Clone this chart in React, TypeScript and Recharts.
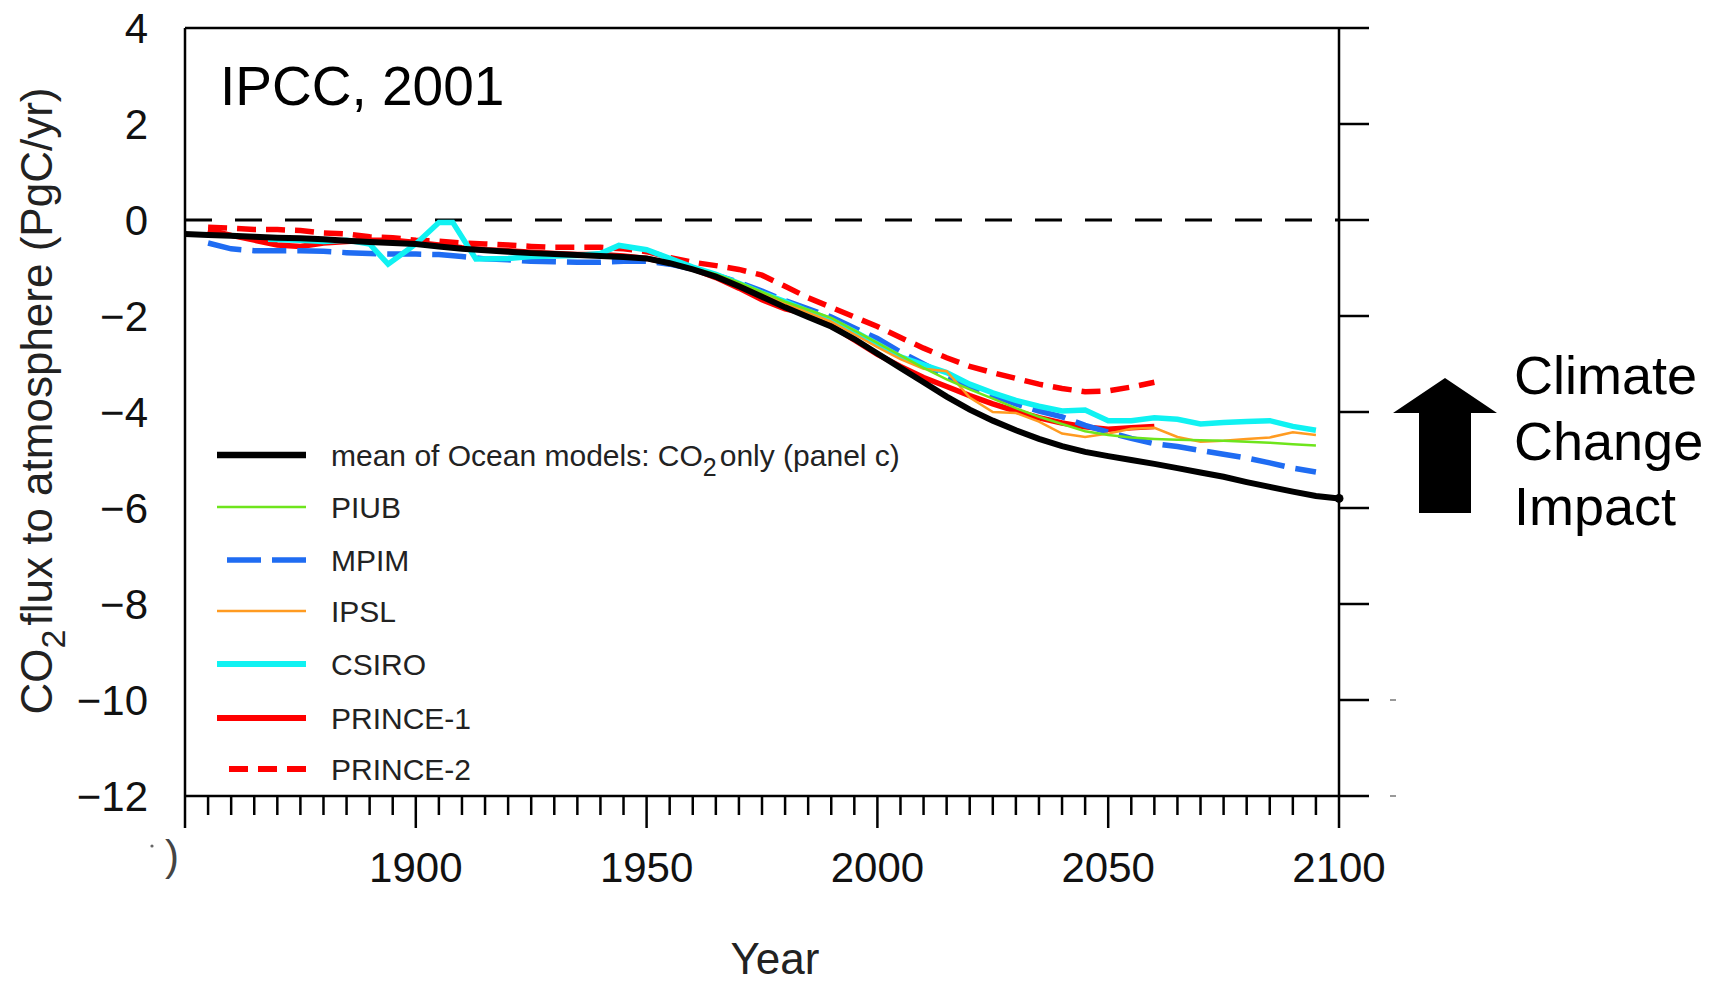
import React from 'react';
import { LineChart, Line, XAxis, YAxis, ReferenceLine } from 'recharts';

// years shared by most model runs (5-year steps)
const YEARS = [
  1850, 1855, 1860, 1865, 1870, 1875, 1880, 1885, 1890, 1895,
  1900, 1905, 1910, 1915, 1920, 1925, 1930, 1935, 1940, 1945,
  1950, 1955, 1960, 1965, 1970, 1975, 1980, 1985, 1990, 1995,
  2000, 2005, 2010, 2015, 2020, 2025, 2030, 2035, 2040, 2045,
  2050, 2055, 2060, 2065, 2070, 2075, 2080, 2085, 2090, 2095, 2100,
];

// PgC/yr
const MEAN = [
  -0.29, -0.31, -0.33, -0.35, -0.37, -0.38, -0.40, -0.43, -0.46, -0.48,
  -0.50, -0.55, -0.60, -0.63, -0.66, -0.69, -0.71, -0.73, -0.75, -0.77,
  -0.80, -0.90, -1.03, -1.18, -1.38, -1.60, -1.82, -2.02, -2.22, -2.48,
  -2.78, -3.08, -3.38, -3.68, -3.95, -4.18, -4.38, -4.56, -4.71, -4.83,
  -4.92, -5.00, -5.08, -5.17, -5.26, -5.35, -5.46, -5.56, -5.66, -5.75, -5.80,
];
const PIUB = [
  null, -0.31, -0.33, -0.35, -0.37, -0.38, -0.40, -0.43, -0.46, -0.48,
  -0.50, -0.55, -0.60, -0.63, -0.66, -0.69, -0.71, -0.73, -0.74, -0.76,
  -0.79, -0.88, -1.00, -1.13, -1.30, -1.50, -1.70, -1.87, -2.04, -2.30,
  -2.56, -2.82, -3.08, -3.32, -3.53, -3.72, -3.92, -4.10, -4.25, -4.40,
  -4.48, -4.53, -4.56, -4.58, -4.59, -4.60, -4.62, -4.64, -4.67, -4.70, null,
];
const MPIM = [
  null, -0.48, -0.60, -0.64, -0.64, -0.64, -0.65, -0.68, -0.70, -0.71,
  -0.71, -0.72, -0.76, -0.81, -0.83, -0.86, -0.87, -0.88, -0.88, -0.86,
  -0.86, -0.92, -1.02, -1.15, -1.30, -1.48, -1.68, -1.85, -2.02, -2.25,
  -2.47, -2.75, -3.00, -3.25, -3.45, -3.65, -3.83, -3.98, -4.10, -4.28,
  -4.42, -4.55, -4.66, -4.72, -4.80, -4.88, -4.96, -5.06, -5.17, -5.25, null,
];
const IPSL = [
  null, -0.31, -0.33, -0.35, -0.37, -0.38, -0.40, -0.43, -0.46, -0.48,
  -0.50, -0.55, -0.60, -0.63, -0.66, -0.69, -0.71, -0.73, -0.74, -0.76,
  -0.79, -0.90, -1.02, -1.16, -1.33, -1.53, -1.74, -1.93, -2.12, -2.38,
  -2.65, -2.90, -3.10, -3.15, -3.70, -4.00, -4.02, -4.20, -4.45, -4.52,
  -4.45, -4.35, -4.33, -4.52, -4.62, -4.60, -4.56, -4.53, -4.42, -4.48, null,
];
const PRINCE1 = [
  null, -0.20, -0.32, -0.42, -0.52, -0.55, -0.48, -0.45, -0.42, -0.42,
  -0.47, -0.52, -0.58, -0.62, -0.64, -0.67, -0.70, -0.72, -0.72, -0.75,
  -0.80, -0.90, -1.02, -1.20, -1.42, -1.66, -1.85, -1.96, -2.20, -2.50,
  -2.80, -3.05, -3.28, -3.47, -3.66, -3.83, -3.98, -4.12, -4.23, -4.31,
  -4.36, -4.33, -4.30, null, null, null, null, null, null, null, null,
];
const PRINCE2 = [
  null, -0.15, -0.17, -0.20, -0.20, -0.22, -0.27, -0.29, -0.35, -0.37,
  -0.42, -0.44, -0.48, -0.50, -0.52, -0.55, -0.57, -0.57, -0.57, -0.60,
  -0.66, -0.78, -0.88, -0.95, -1.03, -1.15, -1.38, -1.62, -1.82, -2.02,
  -2.22, -2.45, -2.67, -2.87, -3.05, -3.18, -3.30, -3.42, -3.51, -3.58,
  -3.56, -3.48, -3.38, null, null, null, null, null, null, null, null,
];

// CSIRO has its own years (the wiggle around 1895-1913)
const CSIRO_YEARS = [
  1868, 1875, 1880, 1885, 1890, 1894, 1900, 1905, 1908, 1913,
  1920, 1925, 1930, 1935, 1940, 1944, 1950, 1955, 1960, 1965,
  1970, 1975, 1980, 1985, 1990, 1995, 2000, 2005, 2010, 2015,
  2020, 2025, 2030, 2035, 2040, 2045, 2050, 2055, 2060, 2065,
  2070, 2075, 2080, 2085, 2090, 2095,
];
const CSIRO = [
  -0.40, -0.42, -0.45, -0.42, -0.50, -0.92, -0.50, -0.05, -0.05, -0.81,
  -0.80, -0.76, -0.75, -0.74, -0.70, -0.53, -0.62, -0.80, -0.98, -1.13,
  -1.32, -1.52, -1.70, -1.90, -2.08, -2.32, -2.58, -2.85, -3.02, -3.18,
  -3.42, -3.60, -3.76, -3.88, -3.98, -3.96, -4.18, -4.18, -4.12, -4.15,
  -4.25, -4.22, -4.20, -4.18, -4.30, -4.38,
];

const Y_TICKS = [-12, -10, -8, -6, -4, -2, 0, 2, 4];
const X_TICKS = YEARS;
const X_LABELS = [1900, 1950, 2000, 2050, 2100];

// legend order; drawing order is below
const SERIES = [
  { key: 'mean', name: 'mean', color: '#000000', width: 6, lw: 6.5, dash: undefined, lx: 217 },
  { key: 'piub', name: 'PIUB', color: '#6ee51c', width: 2.5, lw: 2.5, dash: undefined, lx: 217 },
  { key: 'mpim', name: 'MPIM', color: '#1f6cf2', width: 5.5, lw: 5.5, dash: '34 11', lx: 224 },
  { key: 'ipsl', name: 'IPSL', color: '#ff9b21', width: 2.5, lw: 2.5, dash: undefined, lx: 217 },
  { key: 'csiro', name: 'CSIRO', color: '#10f2f2', width: 5.5, lw: 6, dash: undefined, lx: 217 },
  { key: 'prince1', name: 'PRINCE-1', color: '#ff0000', width: 5.5, lw: 6, dash: undefined, lx: 217 },
  { key: 'prince2', name: 'PRINCE-2', color: '#ff0000', width: 5.5, lw: 6, dash: '19 10', lx: 227 },
];
const DRAW_ORDER = ['prince2', 'prince1', 'mpim', 'csiro', 'ipsl', 'piub', 'mean'];

const FONT = '"Liberation Sans", Arial, Helvetica, sans-serif';

function buildRows() {
  const byYear = new Map<number, Record<string, number | null>>();
  const put = (years: number[], values: (number | null)[], key: string) => {
    years.forEach((yr, i) => {
      if (values[i] === null || values[i] === undefined) return;
      const row = byYear.get(yr) || { year: yr };
      row[key] = values[i];
      byYear.set(yr, row);
    });
  };
  put(YEARS, MEAN, 'mean');
  put(YEARS, PIUB, 'piub');
  put(YEARS, MPIM, 'mpim');
  put(YEARS, IPSL, 'ipsl');
  put(YEARS, PRINCE1, 'prince1');
  put(YEARS, PRINCE2, 'prince2');
  put(CSIRO_YEARS, CSIRO, 'csiro');
  return Array.from(byYear.values()).sort((a, b) => (a.year as number) - (b.year as number));
}

const rows = buildRows();

// eslint-disable-next-line @typescript-eslint/no-explicit-any
const XTick = (props: any) => {
  const { x, y, payload } = props;
  const v = payload.value;
  const major = v % 50 === 0;
  return (
    <g>
      <line x1={x} x2={x} y1={y} y2={y + (major ? 32 : 19)} stroke="#000" strokeWidth={2.5} />
      {X_LABELS.includes(v) && (
        <text x={x} y={y + 86} textAnchor="middle" fontSize={42} fontFamily={FONT} fill="#111">
          {v}
        </text>
      )}
    </g>
  );
};

// eslint-disable-next-line @typescript-eslint/no-explicit-any
const YTick = (props: any) => {
  const { x, y, payload } = props;
  const v = payload.value;
  const label = v < 0 ? '\u2212' + Math.abs(v) : String(v);
  return (
    <text x={x - 37} y={y + 15} textAnchor="end" fontSize={42} fontFamily={FONT} fill="#111">
      {label}
    </text>
  );
};

// right axis: bare outward tick marks
// eslint-disable-next-line @typescript-eslint/no-explicit-any
const RightTick = (props: any) => {
  const { x, y } = props;
  return <line x1={x} x2={x + 30} y1={y} y2={y} stroke="#000" strokeWidth={2.5} />;
};

const lastIdx = rows.length - 1;
// eslint-disable-next-line @typescript-eslint/no-explicit-any
const endBlob = (p: any) =>
  p.index === lastIdx ? <circle key="blob" cx={p.cx} cy={p.cy} r={4.5} fill="#000" /> : <g key={`d-${p.index}`} />;

function Legend() {
  const rowY = [455, 507, 560, 611, 664, 718, 769];
  return (
    <g fontFamily={FONT} fontSize={30} fill="#222">
      {SERIES.map((s, i) => (
        <g key={s.key}>
          <line x1={306} x2={s.lx} y1={rowY[i]} y2={rowY[i]} stroke={s.color} strokeWidth={s.lw} strokeDasharray={s.dash} />
          {s.key === 'mean' ? (
            <text x={331} y={rowY[i] + 11}>
              <tspan>mean of Ocean models: CO</tspan>
              <tspan dy={10} fontSize={25}>2</tspan>
              <tspan dy={-10} dx={3}>only (panel c)</tspan>
            </text>
          ) : (
            <text x={331} y={rowY[i] + 11}>{s.name}</text>
          )}
        </g>
      ))}
    </g>
  );
}

export default function App() {
  return (
    <div style={{ position: 'absolute', left: 0, top: 0, width: 1724, height: 983, background: '#fff', overflow: 'hidden', fontFamily: FONT }}>
      <LineChart width={1724} height={983} data={rows} margin={{ top: 28, right: 354, bottom: 127, left: 0 }}>
        <XAxis
          dataKey="year"
          type="number"
          domain={[1850, 2100]}
          ticks={X_TICKS}
          interval={0}
          height={60}
          tickSize={0}
          tickMargin={0}
          tickLine={false}
          axisLine={{ stroke: '#000', strokeWidth: 2.5 }}
          tick={<XTick />}
        />
        <YAxis
          type="number"
          domain={[-12, 4]}
          ticks={Y_TICKS}
          interval={0}
          width={185}
          tickSize={0}
          tickMargin={0}
          tickLine={false}
          axisLine={{ stroke: '#000', strokeWidth: 2.5 }}
          tick={<YTick />}
        />
        <YAxis
          yAxisId="right"
          orientation="right"
          type="number"
          domain={[-12, 4]}
          ticks={Y_TICKS}
          interval={0}
          width={31}
          tickSize={0}
          tickMargin={0}
          tickLine={false}
          axisLine={{ stroke: '#000', strokeWidth: 2.5 }}
          tick={<RightTick />}
        />
        <ReferenceLine y={4} stroke="#000" strokeWidth={2.5} />
        <ReferenceLine y={0} stroke="#000" strokeWidth={3} strokeDasharray="27 23" />
        {DRAW_ORDER.map((k) => {
          const s = SERIES.find((d) => d.key === k)!;
          return (
            <Line
              key={k}
              dataKey={k}
              name={s.name}
              yAxisId={k === 'mean' ? 'right' : 0}
              type="linear"
              stroke={s.color}
              strokeWidth={s.width}
              strokeDasharray={s.dash}
              dot={k === 'mean' ? endBlob : false}
              activeDot={false}
              connectNulls
              isAnimationActive={false}
            />
          );
        })}
      </LineChart>

      <svg width={1724} height={983} style={{ position: 'absolute', left: 0, top: 0, pointerEvents: 'none' }}>
        <text transform="translate(52, 401) rotate(-90)" textAnchor="middle" fontSize={44} fontFamily={FONT} fill="#222">
          <tspan>CO</tspan>
          <tspan dy={13} fontSize={34}>2</tspan>
          <tspan dy={-13} dx={4}>flux to atmosphere (PgC/yr)</tspan>
        </text>
        <text x={775} y={974} textAnchor="middle" fontSize={44} fontFamily={FONT} fill="#222">Year</text>
        <text x={165} y={870} fontSize={42} fontFamily={FONT} fill="#444">)</text>
        <circle cx={152} cy={846} r={1.6} fill="#666" />
        <line x1={1390} x2={1396} y1={700} y2={700} stroke="#999" strokeWidth={2} />
        <line x1={1390} x2={1396} y1={796} y2={796} stroke="#999" strokeWidth={2} />

        <text x={220} y={105} fontSize={55} fontFamily={FONT} fill="#000">IPCC, 2001</text>

        <Legend />

        <polygon points="1445,378 1497,413 1471,413 1471,513 1419,513 1419,413 1393,413" fill="#000" />
        <g fontSize={54} fontFamily={FONT} fill="#000">
          <text x={1514} y={394}>Climate</text>
          <text x={1514} y={460}>Change</text>
          <text x={1514} y={525}>Impact</text>
        </g>
      </svg>
    </div>
  );
}
